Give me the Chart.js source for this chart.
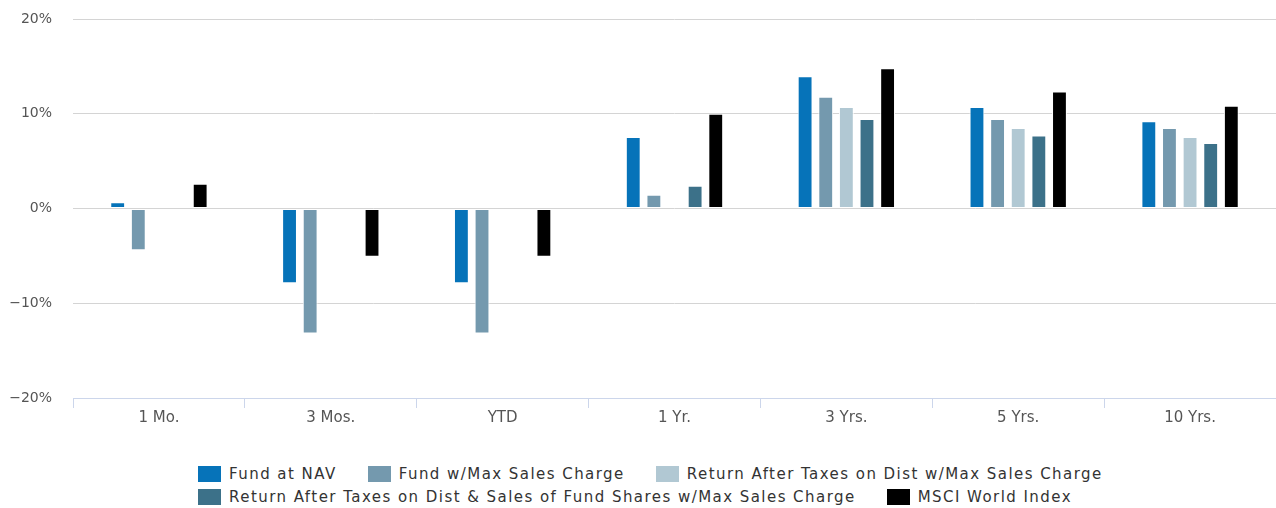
<!DOCTYPE html>
<html>
<head>
<meta charset="utf-8">
<script src="https://cdn.jsdelivr.net/npm/chart.js@4.4.1/dist/chart.umd.min.js"></script>
<style>
  body { margin: 0; background: #fff; }
  #wrap { position: relative; width: 1276px; height: 508px; }
  #legend {
    position: absolute; left: 198px; top: 462px;
    font-family: "DejaVu Sans", sans-serif; font-size: 15px; letter-spacing: 1.45px; color: #333;
  }
  #legend .item { display: inline-flex; align-items: center; height: 23px; margin-right: 31px; white-space: nowrap; }
  #legend .sym { width: 23px; height: 16px; margin-right: 8px; }
</style>
</head>
<body>
<div id="wrap">
  <canvas id="perf-chart" width="1276" height="450"></canvas>
  <div id="legend"></div>
</div>
<script>
// Period categories along the x axis
const periods = ["1 Mo.", "3 Mos.", "YTD", "1 Yr.", "3 Yrs.", "5 Yrs.", "10 Yrs."];

// Series values (%)
const fundNav = [0.65, -7.9, -7.9, 7.55, 13.95, 10.7, 9.2];
const fundMaxCharge = [-4.4, -13.2, -13.2, 1.45, 11.8, 9.45, 8.5];
const afterTaxDist = [null, null, null, 0, 10.7, 8.5, 7.55];
const afterTaxDistSales = [null, null, null, 2.4, 9.45, 7.7, 6.9];
const msciWorld = [2.6, -5.1, -5.1, 10.0, 14.8, 12.35, 10.85];

// Y axis tick values
const yTicks = [-20, -10, 0, 10, 20];

const seriesNames = [
  "Fund at NAV",
  "Fund w/Max Sales Charge",
  "Return After Taxes on Dist w/Max Sales Charge",
  "Return After Taxes on Dist & Sales of Fund Shares w/Max Sales Charge",
  "MSCI World Index"
];
const seriesColors = ["#0673b9", "#7499ae", "#b1c8d3", "#3c7189", "#000000"];
const seriesData = [fundNav, fundMaxCharge, afterTaxDist, afterTaxDistSales, msciWorld];

document.addEventListener("DOMContentLoaded", function () {
  const ctx = document.getElementById("perf-chart").getContext("2d");

  const chart = new Chart(ctx, {
    type: "bar",
    data: {
      labels: periods,
      datasets: seriesData.map(function (values, i) {
        return {
          label: seriesNames[i],
          data: values,
          backgroundColor: seriesColors[i],
          borderColor: "#ffffff",
          borderWidth: 1,
          borderSkipped: false,
          categoryPercentage: 0.6,
          barPercentage: 0.72
        };
      })
    },
    options: {
      responsive: false,
      animation: false,
      devicePixelRatio: 1,
      layout: { padding: { top: 19, right: 0, bottom: 0, left: 0 } },
      plugins: {
        legend: { display: false },
        tooltip: {
          callbacks: {
            label: function (item) {
              return item.dataset.label + ": " + item.raw + "%";
            }
          }
        }
      },
      scales: {
        x: {
          grid: {
            display: true,
            drawOnChartArea: false,
            drawTicks: true,
            tickLength: 10,
            color: "#ccd6eb",
            offset: true
          },
          border: { display: true, color: "#ccd6eb", width: 1 },
          ticks: {
            color: "#555",
            padding: 1,
            font: { family: "DejaVu Sans", size: 15 }
          },
          afterFit: function (scale) { scale.height = 52; }
        },
        y: {
          min: -20,
          max: 20,
          afterBuildTicks: function (scale) {
            scale.ticks = yTicks.map(function (v) { return { value: v }; });
          },
          // invisible tick marks give the gap between labels and plot
          grid: { color: "#d4d4d4", lineWidth: 1, drawTicks: true, tickLength: 21, tickColor: "rgba(0,0,0,0)" },
          border: { display: false },
          ticks: {
            color: "#555",
            padding: 0,
            font: { family: "DejaVu Sans", size: 14 },
            callback: function (v) {
              return (v < 0 ? "\u2212" + Math.abs(v) : v) + "%";
            }
          },
          afterFit: function (scale) { scale.width = 73; }
        }
      }
    }
  });

  // Build the legend below the chart: three items, then two
  const legend = document.getElementById("legend");
  chart.data.datasets.forEach(function (ds, i) {
    const item = document.createElement("span");
    item.className = "item";
    const sym = document.createElement("span");
    sym.className = "sym";
    sym.style.background = ds.backgroundColor;
    item.appendChild(sym);
    item.appendChild(document.createTextNode(ds.label));
    legend.appendChild(item);
    if (i === 2) legend.appendChild(document.createElement("br"));
  });
});
</script>
</body>
</html>
